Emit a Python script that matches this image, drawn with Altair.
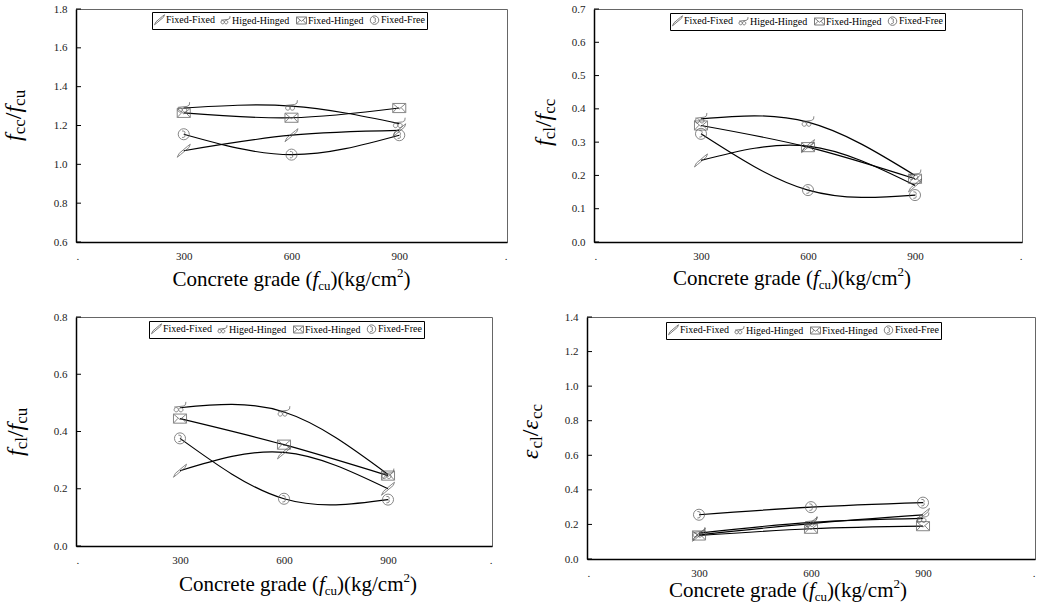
import altair as alt
import pandas as pd

GRADES = [300, 600, 900]
SERIES = ["Fixed-Fixed", "Higed-Hinged", "Fixed-Hinged", "Fixed-Free"]

# f_cc / f_cu
fcc_fcu_fixed_fixed = [1.07, 1.15, 1.175]
fcc_fcu_hinged_hinged = [1.29, 1.30, 1.21]
fcc_fcu_fixed_hinged = [1.265, 1.24, 1.29]
fcc_fcu_fixed_free = [1.155, 1.05, 1.15]

# f_cl / f_cc
fcl_fcc_fixed_fixed = [0.245, 0.288, 0.17]
fcl_fcc_hinged_hinged = [0.37, 0.36, 0.20]
fcl_fcc_fixed_hinged = [0.35, 0.285, 0.19]
fcl_fcc_fixed_free = [0.325, 0.156, 0.141]

# f_cl / f_cu
fcl_fcu_fixed_fixed = [0.263, 0.327, 0.20]
fcl_fcu_hinged_hinged = [0.483, 0.468, 0.25]
fcl_fcu_fixed_hinged = [0.445, 0.354, 0.246]
fcl_fcu_fixed_free = [0.376, 0.165, 0.162]

# eps_cl / eps_cc
ecl_ecc_fixed_fixed = [0.14, 0.205, 0.255]
ecl_ecc_hinged_hinged = [0.15, 0.212, 0.235]
ecl_ecc_fixed_hinged = [0.136, 0.175, 0.19]
ecl_ecc_fixed_free = [0.256, 0.30, 0.326]

X_TICKS = [0, 300, 600, 900, 1200]

# marker glyphs, drawn in a -1..1 box
MARKERS = [
    "M-1,1 L-0.7,0.4 L0.6,-0.7 L1,-1 L0.8,-0.5 L-0.5,0.6 Z",
    "M-0.9,0.3 A0.33,0.33 0 1,0 -0.24,0.3 A0.33,0.33 0 1,0 -0.9,0.3 Z "
    "M-0.2,0.3 A0.33,0.33 0 1,0 0.46,0.3 A0.33,0.33 0 1,0 -0.2,0.3 Z "
    "M-0.9,-0.1 L0.5,-0.25 Q1,-0.35 0.9,-0.9",
    "M-1,-0.7 L1,-0.7 L1,0.7 L-1,0.7 Z M-1,-0.7 L0,0.15 L1,-0.7 "
    "M-1,0.7 L-0.3,-0.05 M1,0.7 L0.3,-0.05",
    "M-0.85,0 A0.85,0.85 0 1,0 0.85,0 A0.85,0.85 0 1,0 -0.85,0 Z "
    "M-0.25,-0.5 Q0.4,-0.5 0.1,0 Q0.4,0.5 -0.25,0.5",
]

SERIF = "Liberation Serif"

REG_W = {" ": 250, "(": 333, ")": 333, "/": 278, "2": 500, "C": 667, "a": 444,
         "c": 444, "d": 500, "e": 444, "g": 500, "k": 500, "l": 278, "m": 778,
         "n": 500, "o": 500, "r": 333, "t": 278, "u": 500}
ITA_W = {"f": 278, "ε": 440}


def text_width(s, size, italic):
    table = ITA_W if italic else REG_W
    return sum(table.get(ch, 500) for ch in s) * size / 1000.0


def rich_text(pieces, x0, y0, vertical=False, center=False):
    """Place a run of differently styled text pieces one after another."""
    total = sum(text_width(t, s, i) for t, s, i, _ in pieces)
    pos = -total / 2 if center else 0.0
    layers = []
    for text, size, italic, shift in pieces:
        if vertical:
            x, y, ang = x0 + shift, y0 - pos, 270
        else:
            x, y, ang = x0 + pos, y0 + shift, 0
        layers.append(
            alt.Chart(pd.DataFrame({"t": [text]}))
            .mark_text(align="left", baseline="alphabetic", font=SERIF,
                       fontSize=size, fontStyle="italic" if italic else "normal",
                       angle=ang, color="black")
            .encode(text="t:N", x=alt.value(x), y=alt.value(y))
        )
        pos += text_width(text, size, italic)
    return layers


def x_title(cx, y):
    return rich_text(
        [("Concrete grade (", 21, False, 0), ("f", 21, True, 0),
         ("cu", 13, False, 4), (")(kg/cm", 21, False, 0),
         ("2", 13, False, -9), (")", 21, False, 0)],
        cx, y, center=True)


def y_title(num_sym, num_sub, den_sym, den_sub, x, y):
    return rich_text(
        [(num_sym, 24, True, 0), (num_sub, 17, False, 4), ("/", 24, False, 0),
         (den_sym, 24, True, 0), (den_sub, 17, False, 4)],
        x, y, vertical=True)


def make_frame(series_values):
    rows = []
    for name, vals in zip(SERIES, series_values):
        for g, v in zip(GRADES, vals):
            rows.append({"grade": g, "series": name, "value": v})
    return pd.DataFrame(rows)


def panel(series_values, ydom, yticks, w, h, leg_xy, xt, yt):
    df = make_frame(series_values)
    xenc = alt.X("grade:Q",
                 scale=alt.Scale(domain=[0, 1200], nice=False),
                 axis=alt.Axis(values=X_TICKS, title=None, labelPadding=8, labelOverlap=False,
                               labelExpr="datum.value == 0 || datum.value == 1200 ? '.' : datum.label"))
    yscale = alt.Scale(domain=ydom, nice=False, zero=False)
    yaxis = alt.Axis(values=yticks, format=".1f", title=None, labelPadding=9,
                     labelOverlap=False)
    base = alt.Chart(df).encode(x=xenc, y=alt.Y("value:Q", scale=yscale, axis=yaxis))
    lines = base.mark_line(interpolate="natural", color="black", strokeWidth=1.2).encode(
        detail="series:N")
    points = base.mark_point(filled=False, size=170, strokeWidth=1, color="#555").encode(
        shape=alt.Shape("series:N",
                        scale=alt.Scale(domain=SERIES, range=MARKERS),
                        legend=alt.Legend(orient="none", legendX=leg_xy[0], legendY=leg_xy[1],
                                          direction="horizontal", columns=4, title=None,
                                          strokeColor="black", padding=2,
                                          labelFont=SERIF, labelFontSize=10,
                                          labelColor="black", labelOffset=1,
                                          symbolSize=100, symbolStrokeColor="#444",
                                          symbolStrokeWidth=1, symbolFillColor="transparent",
                                          columnPadding=4)))
    # short inward tick marks on the value axis
    ticks = alt.Chart(pd.DataFrame({"v": yticks})).mark_rule(
        color="black", strokeWidth=1).encode(
        y=alt.Y("v:Q", scale=yscale, axis=yaxis), x=alt.value(0), x2=alt.value(5))
    layers = [ticks, lines, points] + xt + yt
    return alt.layer(*layers).properties(width=w, height=h)


p1 = panel([fcc_fcu_fixed_fixed, fcc_fcu_hinged_hinged, fcc_fcu_fixed_hinged, fcc_fcu_fixed_free],
           [0.6, 1.8], [0.6, 0.8, 1.0, 1.2, 1.4, 1.6, 1.8], 431, 233, (76, 3),
           x_title(215.5, 277), y_title("f", "cc", "f", "cu", -55, 132))
p2 = panel([fcl_fcc_fixed_fixed, fcl_fcc_hinged_hinged, fcl_fcc_fixed_hinged, fcl_fcc_fixed_free],
           [0.0, 0.7], [0.0, 0.1, 0.2, 0.3, 0.4, 0.5, 0.6, 0.7], 428, 233, (76, 4),
           x_title(198, 276), y_title("f", "cl", "f", "cc", -43, 137))
p3 = panel([fcl_fcu_fixed_fixed, fcl_fcu_hinged_hinged, fcl_fcu_fixed_hinged, fcl_fcu_fixed_free],
           [0.0, 0.8], [0.0, 0.2, 0.4, 0.6, 0.8], 416, 229, (73, 4),
           x_title(222, 274), y_title("f", "cl", "f", "cu", -53, 139))
p4 = panel([ecl_ecc_fixed_fixed, ecl_ecc_hinged_hinged, ecl_ecc_fixed_hinged, ecl_ecc_fixed_free],
           [0.0, 1.4], [0.0, 0.2, 0.4, 0.6, 0.8, 1.0, 1.2, 1.4], 448, 242, (79, 5),
           x_title(201, 280), y_title("ε", "cl", "ε", "cc", -49, 142))

row1 = alt.hconcat(p1, p2, spacing=87, bounds="flush").resolve_scale(
    x="independent", y="independent", shape="independent").resolve_legend(shape="independent")
row2 = alt.hconcat(p3, p4, spacing=95, bounds="flush").resolve_scale(
    x="independent", y="independent", shape="independent").resolve_legend(shape="independent")

chart = (
    alt.vconcat(row1, row2, spacing=16)
    .resolve_scale(x="independent", y="independent", shape="independent")
    .resolve_legend(shape="independent")
    .properties(padding={"left": 1, "top": 2, "right": 5, "bottom": 0}, background="white")
    .configure_view(stroke="#666", strokeWidth=1)
    .configure_axis(labelFont=SERIF, labelFontSize=11, labelColor="#222",
                    domainColor="black", domainWidth=1.5, grid=False, ticks=False)
)

chart.save("out.html", embed_options={"renderer": "svg", "actions": False})
